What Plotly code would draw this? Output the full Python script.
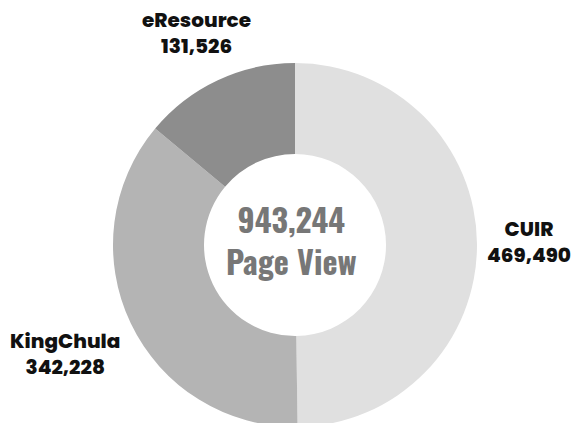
import plotly.graph_objects as go

# ---- data ----
labels = ["CUIR", "KingChula", "eResource"]
values = [469490, 342228, 131526]
colors = ["#e0e0e0", "#b4b4b4", "#8d8d8d"]
center_caption = "Page View"

W, H = 572, 430  # figure slightly taller than window so donut bottom is clipped like reference


def px(x, y):
    return x / W, 1 - y / H


cx, cy, r = 295, 245, 182
fig = go.Figure(
    go.Pie(
        labels=labels,
        values=values,
        hole=0.5,
        sort=False,
        direction="clockwise",
        rotation=0,
        marker=dict(colors=colors, line=dict(width=0)),
        textinfo="none",
        hoverinfo="label+value",
        domain=dict(x=[(cx - r) / W, (cx + r) / W], y=[1 - (cy + r) / H, 1 - (cy - r) / H]),
        showlegend=False,
    )
)

label_font = dict(family="Poppins, sans-serif", size=20, color="#111111", weight=800)
label_pos = {"CUIR": (529, 242), "KingChula": (65, 354), "eResource": (196, 33.5)}
annotations = []
for lab, val in zip(labels, values):
    x0, y0 = label_pos[lab]
    ax, ay = px(x0, y0)
    annotations.append(dict(x=ax, y=ay, xref="paper", yref="paper", text=f"{lab}<br>{val:,}",
                            showarrow=False, xanchor="center", yanchor="middle", font=label_font))

total = sum(values)
center_font = dict(family="Oswald, 'Roboto Condensed', sans-serif", size=32, color="#777777", weight="bold")
tx, ty = px(291.5, 239.5)
annotations.append(dict(x=tx, y=ty, xref="paper", yref="paper", text=f"{total:,}<br>{center_caption}",
                        showarrow=False, xanchor="center", yanchor="middle", font=center_font))

fig.update_layout(
    width=W, height=H,
    margin=dict(l=0, r=0, t=0, b=0),
    paper_bgcolor="white", plot_bgcolor="white",
    annotations=annotations,
)

fig.write_html("out.html", config={"displayModeBar": False},
               post_script="document.body.style.margin='0';document.body.style.overflow='hidden';")
